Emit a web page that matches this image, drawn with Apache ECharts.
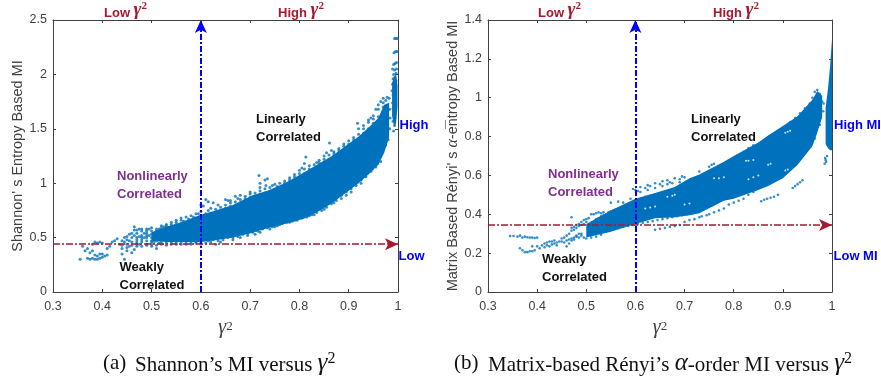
<!DOCTYPE html>
<html>
<head>
<meta charset="utf-8">
<style>html,body{margin:0;padding:0;background:#fff}#main{width:881px;height:381px}</style>
<script src="https://cdn.jsdelivr.net/npm/echarts@6/dist/echarts.min.js"></script>
</head>
<body>
<div id="main"></div>
<script>
var gammaTicks = [0.3, 0.4, 0.5, 0.6, 0.7, 0.8, 0.9, 1];
var shannonTicks = [0, 0.5, 1, 1.5, 2, 2.5];
var renyiTicks = [0, 0.2, 0.4, 0.6, 0.8, 1, 1.2, 1.4];

var shannonBandX = [0.50, 0.53, 0.56, 0.60, 0.63, 0.665, 0.705, 0.735, 0.77, 0.81, 0.84, 0.866, 0.92, 0.94, 0.96, 0.972, 0.982];
var shannonBandLow = [0.47, 0.46, 0.46, 0.46, 0.475, 0.50, 0.545, 0.585, 0.625, 0.675, 0.745, 0.815, 1.00, 1.08, 1.17, 1.28, 1.42];
var shannonBandHigh = [0.55, 0.60, 0.64, 0.71, 0.75, 0.80, 0.89, 0.93, 1.00, 1.10, 1.18, 1.25, 1.43, 1.51, 1.60, 1.72, 1.74];

var shannonColumnX = [0.988, 0.992, 0.996, 0.999];
var shannonColumnLow = [1.62, 1.52, 1.55, 1.70];
var shannonColumnHigh = [1.92, 1.98, 2.00, 1.90];

var renyiBandX = [0.50, 0.55, 0.60, 0.64, 0.68, 0.71, 0.73, 0.78, 0.80, 0.85, 0.87, 0.90, 0.93, 0.96, 0.97, 0.98];
var renyiBandLow = [0.28, 0.31, 0.35, 0.38, 0.385, 0.395, 0.405, 0.47, 0.48, 0.525, 0.545, 0.585, 0.655, 0.75, 0.82, 0.90];
var renyiBandHigh = [0.35, 0.42, 0.48, 0.51, 0.54, 0.585, 0.605, 0.67, 0.70, 0.77, 0.805, 0.855, 0.905, 0.99, 1.035, 1.01];

var renyiColumnX = [0.987, 0.992, 0.996, 1];
var renyiColumnLow = [0.76, 0.74, 0.73, 0.73];
var renyiColumnHigh = [0.95, 1.05, 1.16, 1.30];

// loose dots around the solid part
var shannonDots = [
  [0.36, 0.42], [0.365, 0.38], [0.355, 0.30], [0.37, 0.31], [0.375, 0.30], [0.38, 0.31], [0.385, 0.30], [0.39, 0.30],
  [0.395, 0.31], [0.40, 0.32], [0.405, 0.33], [0.41, 0.34], [0.375, 0.36], [0.38, 0.38], [0.385, 0.34], [0.39, 0.33],
  [0.395, 0.35], [0.40, 0.35], [0.37, 0.40], [0.38, 0.44], [0.385, 0.46], [0.39, 0.45], [0.395, 0.46], [0.40, 0.45],
  [0.41, 0.40], [0.415, 0.42], [0.42, 0.46], [0.425, 0.47], [0.43, 0.49], [0.435, 0.44], [0.44, 0.47], [0.445, 0.50],
  [0.45, 0.51], [0.445, 0.30], [0.44, 0.35], [0.45, 0.38], [0.455, 0.42], [0.46, 0.36], [0.465, 0.39], [0.47, 0.42],
  [0.475, 0.44], [0.455, 0.47], [0.46, 0.50], [0.465, 0.52], [0.47, 0.54], [0.475, 0.58], [0.465, 0.60], [0.48, 0.56],
  [0.47, 0.48], [0.475, 0.51], [0.48, 0.46], [0.48, 0.52], [0.485, 0.50], [0.485, 0.54], [0.49, 0.44], [0.49, 0.47],
  [0.49, 0.56], [0.495, 0.58], [0.495, 0.52], [0.50, 0.42], [0.50, 0.47], [0.505, 0.46], [0.51, 0.40], [0.51, 0.56],
  [0.515, 0.58], [0.515, 0.45], [0.52, 0.44], [0.525, 0.60], [0.53, 0.43], [0.53, 0.62], [0.54, 0.46], [0.54, 0.60],
  [0.55, 0.44], [0.55, 0.64], [0.56, 0.46], [0.565, 0.65], [0.57, 0.44], [0.575, 0.67], [0.58, 0.45], [0.585, 0.69],
  [0.59, 0.45], [0.595, 0.72], [0.60, 0.80], [0.605, 0.79], [0.61, 0.85], [0.615, 0.83], [0.60, 0.44], [0.61, 0.45],
  [0.62, 0.46], [0.625, 0.82], [0.63, 0.44], [0.635, 0.80], [0.64, 0.46], [0.65, 0.85], [0.655, 0.84], [0.66, 0.82],
  [0.665, 0.48], [0.67, 0.88], [0.675, 0.86], [0.68, 0.89], [0.68, 0.50], [0.69, 0.86], [0.695, 0.52], [0.70, 0.90],
  [0.71, 0.53], [0.72, 0.93], [0.72, 0.55], [0.718, 1.07], [0.72, 1.00], [0.73, 1.03], [0.735, 1.04], [0.732, 0.98],
  [0.74, 0.58], [0.745, 0.98], [0.75, 0.60], [0.755, 0.97], [0.76, 0.62], [0.77, 1.00], [0.78, 1.03], [0.78, 0.64],
  [0.79, 1.06], [0.79, 0.66], [0.80, 1.12], [0.805, 1.14], [0.81, 1.18], [0.813, 1.24], [0.82, 1.16], [0.82, 0.70],
  [0.83, 0.71], [0.835, 1.19], [0.84, 1.21], [0.85, 1.25], [0.85, 0.76], [0.855, 1.28], [0.861, 1.37], [0.865, 1.30],
  [0.87, 1.27], [0.87, 0.82], [0.88, 1.32], [0.885, 0.86], [0.89, 1.34], [0.895, 0.89], [0.90, 1.36], [0.905, 0.92],
  [0.91, 1.42], [0.918, 1.55], [0.92, 1.45], [0.925, 1.00], [0.93, 1.50], [0.94, 1.56], [0.945, 1.60], [0.95, 1.62],
  [0.955, 1.68], [0.96, 1.72], [0.965, 1.75], [0.97, 1.78], [0.978, 1.79], [0.982, 1.78], [0.948, 1.13], [0.958, 1.18],
  [0.991, 1.48], [0.993, 1.53], [0.990, 1.57], [0.994, 1.60], [0.991, 1.63], [0.993, 1.66], [0.990, 1.69], [0.995, 1.71],
  [0.989, 1.74], [0.992, 1.76], [0.995, 1.78], [0.990, 1.81], [0.993, 1.83], [0.988, 1.85], [0.991, 1.87], [0.995, 1.88],
  [0.989, 1.91], [0.993, 1.92], [0.996, 1.94], [0.990, 1.96], [0.994, 1.97], [0.991, 2.00], [0.996, 2.01], [0.993, 2.04],
  [0.989, 2.05], [0.997, 2.05], [0.991, 2.09], [0.994, 2.10], [0.997, 2.11], [0.992, 2.20], [0.995, 2.21], [0.998, 2.21],
  [0.993, 2.33], [0.996, 2.33], [0.999, 2.33],
  [0.44, 0.40], [0.44, 0.43], [0.445, 0.46], [0.45, 0.41], [0.45, 0.44], [0.45, 0.48], [0.455, 0.53], [0.46, 0.43],
  [0.46, 0.46], [0.46, 0.54], [0.465, 0.57], [0.47, 0.44], [0.47, 0.46], [0.47, 0.50], [0.47, 0.57], [0.48, 0.42],
  [0.48, 0.48], [0.48, 0.50], [0.48, 0.58], [0.49, 0.43], [0.49, 0.50], [0.49, 0.52], [0.49, 0.54], [0.49, 0.58],
  [0.50, 0.44], [0.50, 0.46], [0.50, 0.50], [0.50, 0.53], [0.50, 0.56], [0.50, 0.59], [0.51, 0.43], [0.51, 0.47],
  [0.51, 0.50], [0.51, 0.54], [0.51, 0.58], [0.52, 0.46], [0.52, 0.48], [0.52, 0.56], [0.52, 0.59], [0.52, 0.61],
  [0.53, 0.45], [0.53, 0.47], [0.53, 0.59], [0.53, 0.61], [0.54, 0.44], [0.54, 0.48], [0.54, 0.62], [0.54, 0.64],
  [0.55, 0.45], [0.55, 0.47], [0.55, 0.62], [0.55, 0.66], [0.56, 0.44], [0.56, 0.48], [0.56, 0.63], [0.56, 0.66],
  [0.56, 0.68], [0.57, 0.46], [0.57, 0.48], [0.57, 0.64], [0.57, 0.69], [0.58, 0.44], [0.58, 0.47], [0.58, 0.66],
  [0.58, 0.70], [0.59, 0.46], [0.59, 0.48], [0.59, 0.68], [0.59, 0.72], [0.60, 0.45], [0.60, 0.47], [0.60, 0.70],
  [0.60, 0.74], [0.61, 0.69], [0.61, 0.72], [0.615, 0.75], [0.615, 0.47], [0.62, 0.72], [0.62, 0.77], [0.625, 0.48],
  [0.63, 0.73], [0.63, 0.76], [0.635, 0.47], [0.64, 0.75], [0.64, 0.78], [0.645, 0.48], [0.65, 0.77], [0.65, 0.80],
  [0.655, 0.50], [0.66, 0.79], [0.66, 0.84], [0.665, 0.50], [0.67, 0.80], [0.67, 0.83], [0.675, 0.51], [0.68, 0.82],
  [0.68, 0.85], [0.685, 0.53], [0.69, 0.84], [0.69, 0.88], [0.695, 0.54], [0.70, 0.87], [0.70, 0.92], [0.705, 0.55],
  [0.71, 0.88], [0.71, 0.91], [0.715, 0.56], [0.72, 0.90], [0.72, 0.96], [0.725, 0.58], [0.73, 0.91], [0.73, 0.95],
  [0.735, 0.59], [0.74, 0.92], [0.74, 0.96], [0.745, 0.60], [0.75, 0.94], [0.75, 0.99], [0.755, 0.61], [0.76, 0.95],
  [0.76, 1.00], [0.765, 0.63], [0.77, 0.97], [0.77, 1.02], [0.775, 0.64], [0.78, 0.99], [0.78, 1.05], [0.785, 0.65],
  [0.79, 1.02], [0.79, 1.08], [0.795, 0.66], [0.80, 1.05], [0.80, 1.09], [0.805, 0.68], [0.81, 1.09], [0.81, 1.13],
  [0.815, 0.69], [0.82, 1.10], [0.82, 1.13], [0.825, 0.71], [0.83, 1.13], [0.83, 1.17], [0.835, 0.73], [0.84, 1.16],
  [0.84, 1.19], [0.845, 0.75], [0.85, 1.19], [0.85, 1.22], [0.855, 0.78], [0.86, 1.22], [0.86, 1.26], [0.865, 0.81],
  [0.87, 1.25], [0.87, 1.29], [0.875, 0.84], [0.88, 1.27], [0.88, 1.30], [0.885, 0.89], [0.89, 1.30], [0.89, 1.36],
  [0.895, 0.92], [0.90, 1.33], [0.90, 1.39], [0.905, 0.95], [0.91, 1.37], [0.91, 1.40], [0.915, 0.98], [0.92, 1.41],
  [0.92, 1.50], [0.925, 1.03], [0.93, 1.46], [0.93, 1.53], [0.935, 1.06], [0.94, 1.50], [0.94, 1.58], [0.945, 1.11],
  [0.95, 1.55], [0.95, 1.59], [0.955, 1.15], [0.96, 1.61], [0.96, 1.68], [0.965, 1.20], [0.97, 1.70], [0.97, 1.74],
  [0.975, 1.35], [0.98, 1.40], [0.983, 1.50], [0.984, 1.60], [0.983, 1.68], [0.975, 1.76]
];

var renyiDots = [
  [0.345, 0.288], [0.352, 0.288], [0.36, 0.285], [0.365, 0.29], [0.37, 0.28], [0.375, 0.285], [0.38, 0.282], [0.385, 0.28],
  [0.39, 0.28], [0.395, 0.278], [0.40, 0.28], [0.365, 0.225], [0.37, 0.215], [0.375, 0.205], [0.38, 0.205], [0.385, 0.21],
  [0.39, 0.21], [0.395, 0.215], [0.40, 0.235], [0.39, 0.235], [0.405, 0.225], [0.41, 0.24], [0.415, 0.25], [0.42, 0.255],
  [0.425, 0.26], [0.43, 0.26], [0.435, 0.265], [0.44, 0.24], [0.445, 0.26], [0.45, 0.275], [0.415, 0.23], [0.425, 0.235],
  [0.455, 0.28], [0.46, 0.235], [0.465, 0.25], [0.47, 0.265], [0.475, 0.28], [0.48, 0.29], [0.485, 0.30], [0.49, 0.30],
  [0.46, 0.29], [0.465, 0.30], [0.47, 0.315], [0.475, 0.32], [0.47, 0.385], [0.48, 0.33], [0.485, 0.34], [0.49, 0.345],
  [0.495, 0.35], [0.50, 0.36], [0.505, 0.38], [0.51, 0.40], [0.515, 0.40], [0.52, 0.405], [0.525, 0.41], [0.53, 0.405],
  [0.535, 0.41], [0.50, 0.275], [0.51, 0.28], [0.52, 0.285], [0.53, 0.295], [0.54, 0.31], [0.55, 0.46], [0.565, 0.465],
  [0.575, 0.46], [0.59, 0.48], [0.595, 0.53], [0.60, 0.525], [0.605, 0.52], [0.61, 0.54], [0.62, 0.535], [0.625, 0.55],
  [0.63, 0.545], [0.64, 0.56], [0.65, 0.555], [0.655, 0.57], [0.665, 0.575], [0.67, 0.565], [0.68, 0.585], [0.69, 0.58],
  [0.695, 0.595], [0.70, 0.59], [0.61, 0.515], [0.625, 0.525], [0.64, 0.535], [0.655, 0.545], [0.665, 0.555], [0.675, 0.56],
  [0.69, 0.565], [0.73, 0.62], [0.75, 0.645], [0.755, 0.655], [0.76, 0.66], [0.64, 0.32], [0.65, 0.325], [0.66, 0.33],
  [0.67, 0.335], [0.68, 0.34], [0.69, 0.345], [0.70, 0.36], [0.71, 0.37], [0.72, 0.375], [0.73, 0.385], [0.735, 0.39],
  [0.745, 0.395], [0.75, 0.40], [0.76, 0.41], [0.77, 0.42], [0.78, 0.43], [0.79, 0.45], [0.80, 0.46], [0.81, 0.47],
  [0.82, 0.48], [0.83, 0.50], [0.84, 0.515], [0.856, 0.467], [0.862, 0.475], [0.868, 0.48], [0.875, 0.485], [0.882, 0.49],
  [0.89, 0.50], [0.92, 0.535], [0.925, 0.545], [0.93, 0.555], [0.935, 0.565], [0.94, 0.575], [0.985, 0.66], [0.987, 0.68],
  [0.99, 0.70], [0.988, 0.67], [0.986, 0.69], [0.965, 1.03], [0.97, 1.04], [0.975, 1.02], [0.98, 0.98], [0.96, 1.00],
  [0.955, 0.97], [0.84, 0.755], [0.83, 0.74], [0.82, 0.72], [0.81, 0.70],
  [0.42, 0.24], [0.43, 0.245], [0.435, 0.25], [0.44, 0.255], [0.45, 0.26], [0.455, 0.255], [0.46, 0.265], [0.465, 0.27],
  [0.47, 0.275], [0.475, 0.27], [0.48, 0.285], [0.485, 0.28], [0.49, 0.29], [0.495, 0.28], [0.47, 0.33], [0.475, 0.335],
  [0.48, 0.345], [0.485, 0.35], [0.49, 0.36], [0.495, 0.37], [0.50, 0.375], [0.505, 0.345], [0.51, 0.355], [0.515, 0.36],
  [0.52, 0.375], [0.525, 0.38], [0.53, 0.39], [0.535, 0.395], [0.54, 0.40], [0.545, 0.41], [0.55, 0.415], [0.555, 0.42],
  [0.56, 0.425], [0.565, 0.43], [0.57, 0.435], [0.575, 0.44], [0.58, 0.445], [0.585, 0.45], [0.59, 0.455], [0.595, 0.46],
  [0.505, 0.295], [0.515, 0.30], [0.525, 0.305], [0.535, 0.31], [0.545, 0.315], [0.55, 0.32], [0.555, 0.325], [0.565, 0.33],
  [0.575, 0.335], [0.585, 0.34], [0.595, 0.345], [0.605, 0.35], [0.615, 0.355], [0.625, 0.36], [0.635, 0.365], [0.645, 0.37],
  [0.655, 0.375], [0.665, 0.38], [0.675, 0.385], [0.685, 0.39], [0.695, 0.395], [0.705, 0.40], [0.715, 0.405], [0.72, 0.41],
  [0.735, 0.425], [0.745, 0.435], [0.755, 0.445], [0.765, 0.46], [0.775, 0.475], [0.61, 0.48], [0.62, 0.49], [0.63, 0.495],
  [0.65, 0.505], [0.66, 0.51], [0.67, 0.52], [0.695, 0.545], [0.715, 0.58], [0.74, 0.605], [0.755, 0.62], [0.77, 0.635],
  [0.785, 0.66], [0.795, 0.675], [0.805, 0.69], [0.815, 0.70], [0.825, 0.715], [0.835, 0.73], [0.845, 0.745], [0.855, 0.76],
  [0.865, 0.785], [0.875, 0.80], [0.885, 0.82], [0.895, 0.835], [0.905, 0.85], [0.915, 0.875], [0.925, 0.895], [0.935, 0.92],
  [0.945, 0.945], [0.955, 0.965], [0.865, 0.555], [0.875, 0.57], [0.885, 0.58], [0.895, 0.595], [0.905, 0.61], [0.915, 0.63],
  [0.925, 0.655], [0.935, 0.685], [0.945, 0.715], [0.955, 0.75], [0.965, 0.79], [0.975, 0.86], [0.982, 0.93], [0.983, 0.97]
];

// thin white slits that run through the right part of the second cloud
var renyiSlits = [
  [0.905, 0.82], [0.91, 0.825], [0.915, 0.83], [0.825, 0.675], [0.83, 0.675], [0.84, 0.68], [0.91, 0.63], [0.905, 0.625],
  [0.76, 0.585], [0.77, 0.585], [0.78, 0.59], [0.665, 0.49], [0.675, 0.495], [0.68, 0.50], [0.83, 0.58], [0.84, 0.59],
  [0.85, 0.60], [0.87, 0.655], [0.875, 0.66], [0.70, 0.45], [0.71, 0.455], [0.62, 0.43], [0.63, 0.435], [0.64, 0.44]
];

var bandColor = '#0072BD';
var red = '#A6192E';
var blue = '#0000FF';
var purple = '#7E2F8E';
var mathFont = '"Liberation Serif"';
var sansFont = '"Liberation Sans"';

var chart = echarts.init(document.getElementById('main'));

function bandSeries(xs, lows, highs, axisIndex) {
    return {
        type: 'custom',
        xAxisIndex: axisIndex,
        yAxisIndex: axisIndex,
        coordinateSystem: 'cartesian2d',
        silent: true,
        z: 2,
        data: [[xs[0], lows[0]]],
        renderItem: function(params, api) {
            var points = [];
            for (var i = 0; i < xs.length; i++) {
                points.push(api.coord([xs[i], highs[i]]));
            }
            for (var j = xs.length - 1; j >= 0; j--) {
                points.push(api.coord([xs[j], lows[j]]));
            }
            return { type: 'polygon', shape: { points: points }, style: { fill: bandColor } };
        }
    };
}

function slitSeries(dots, axisIndex) {
    return {
        type: 'scatter',
        xAxisIndex: axisIndex,
        yAxisIndex: axisIndex,
        data: dots,
        symbolSize: 2,
        itemStyle: { color: '#fff' },
        silent: true,
        z: 3
    };
}

function dotSeries(dots, axisIndex, lineY, yMax, size) {
    return {
        type: 'scatter',
        xAxisIndex: axisIndex,
        yAxisIndex: axisIndex,
        data: dots,
        symbolSize: size,
        itemStyle: { color: bandColor },
        silent: true,
        z: 3,
        markLine: {
            silent: true,
            animation: false,
            symbol: ['none', 'arrow'],
            symbolSize: [9, 13],
            label: { show: false },
            data: [
                [{ coord: [0.3, lineY], lineStyle: { color: red, width: 1.5, type: [7, 2, 2, 2] }, itemStyle: { color: red } }, { coord: [1, lineY] }],
                [{ coord: [0.6, 0], lineStyle: { color: blue, width: 2, type: [6, 2, 2, 2] }, itemStyle: { color: blue } }, { coord: [0.6, yMax] }]
            ]
        }
    };
}

var axisColor = '#404040';
var gammaRich = {
    g: { fontFamily: mathFont, fontStyle: 'italic', fontSize: 20, color: '#404040', verticalAlign: 'bottom' },
    s: { fontFamily: mathFont, fontSize: 13, color: '#404040', verticalAlign: 'top' }
};

function xAxes(grid) {
    return [{
        type: 'value', gridIndex: grid, min: gammaTicks[0], max: gammaTicks[gammaTicks.length - 1], interval: 0.1,
        splitLine: { show: false },
        axisLine: { onZero: false, lineStyle: { color: axisColor } },
        axisTick: { inside: true, length: 3, lineStyle: { color: axisColor } },
        axisLabel: { color: '#404040', fontFamily: sansFont, fontSize: 12.5, margin: 8, showMinLabel: true, showMaxLabel: true },
        name: '{g|γ}{s|2}', nameLocation: 'middle', nameGap: 22,
        nameTextStyle: { rich: gammaRich, lineHeight: 18 }
    }, {
        type: 'value', gridIndex: grid, position: 'top', min: gammaTicks[0], max: gammaTicks[gammaTicks.length - 1], interval: 0.1,
        splitLine: { show: false },
        axisLine: { onZero: false, lineStyle: { color: axisColor } },
        axisTick: { inside: true, length: 3, lineStyle: { color: axisColor } },
        axisLabel: { show: false }
    }];
}

function yAxes(grid, ticks, step, title, gap, rich) {
    return [{
        type: 'value', gridIndex: grid, min: ticks[0], max: ticks[ticks.length - 1], interval: step,
        splitLine: { show: false },
        axisLine: { onZero: false, lineStyle: { color: axisColor } },
        axisTick: { inside: true, length: 3, lineStyle: { color: axisColor } },
        axisLabel: { color: '#404040', fontFamily: sansFont, fontSize: 12.5, margin: 6 },
        name: title, nameLocation: 'middle', nameGap: gap,
        nameTextStyle: { color: '#404040', fontFamily: sansFont, fontSize: 14.5, rich: rich }
    }, {
        type: 'value', gridIndex: grid, position: 'right', min: ticks[0], max: ticks[ticks.length - 1], interval: step,
        splitLine: { show: false },
        axisLine: { onZero: false, lineStyle: { color: axisColor } },
        axisTick: { inside: true, length: 3, lineStyle: { color: axisColor } },
        axisLabel: { show: false }
    }];
}

function note(text, x, y, color) {
    return {
        type: 'text', x: x, y: y, z: 20,
        style: { text: text, fill: color, fontFamily: sansFont, fontWeight: 'bold', fontSize: 13, lineHeight: 18, verticalAlign: 'middle' }
    };
}

function gammaNote(word, x, y) {
    return {
        type: 'text', x: x, y: y, z: 20,
        style: {
            text: '{w|' + word + ' }{g|γ}{s|2}',
            verticalAlign: 'middle',
            rich: {
                w: { fontFamily: sansFont, fontWeight: 'bold', fontSize: 13, fill: red, verticalAlign: 'bottom' },
                g: { fontFamily: mathFont, fontStyle: 'italic', fontWeight: 'bold', fontSize: 19, fill: red, verticalAlign: 'bottom' },
                s: { fontFamily: mathFont, fontWeight: 'bold', fontSize: 11, fill: red, verticalAlign: 'top' }
            }
        }
    };
}

function caption(text, x) {
    return {
        type: 'text', x: x, y: 363, z: 20,
        style: {
            text: text,
            verticalAlign: 'middle',
            rich: {
                t: { fontFamily: mathFont, fontSize: 21, fill: '#111', verticalAlign: 'bottom' },
                g: { fontFamily: mathFont, fontStyle: 'italic', fontSize: 25, fill: '#111', verticalAlign: 'bottom' },
                s: { fontFamily: mathFont, fontSize: 16, fill: '#111', verticalAlign: 'top' }
            }
        }
    };
}

var option = {
    animation: false,
    backgroundColor: '#fff',
    grid: [
        { left: 53, right: 483, top: 20, bottom: 89 },
        { left: 488, right: 49, top: 20, bottom: 89 }
    ],
    xAxis: xAxes(0).concat(xAxes(1)),
    yAxis: yAxes(0, shannonTicks, 0.5, "Shannon' s Entropy Based MI", 25).concat(
        yAxes(1, renyiTicks, 0.2, "{t|Matrix Based Rényi' s }{a|α}{t|-entropy Based MI}", 25.5, {
            t: { fontFamily: sansFont, fontSize: 14.5, color: '#404040' },
            a: { fontFamily: mathFont, fontStyle: 'italic', fontSize: 16, color: '#404040' }
        })
    ),
    series: [
        bandSeries(shannonBandX, shannonBandLow, shannonBandHigh, 0),
        bandSeries(shannonColumnX, shannonColumnLow, shannonColumnHigh, 0),
        dotSeries(shannonDots, 0, 0.44, 2.5, 3),
        // the top and right axes of panel a sit at index 1, panel b uses 2
        bandSeries(renyiBandX, renyiBandLow, renyiBandHigh, 2),
        bandSeries(renyiColumnX, renyiColumnLow, renyiColumnHigh, 2),
        slitSeries(renyiSlits, 2),
        dotSeries(renyiDots, 2, 0.345, 1.4, 2.6)
    ],
    graphic: [
        gammaNote('Low', 104, 10),
        gammaNote('High', 278, 10),
        gammaNote('Low', 538, 10),
        gammaNote('High', 713, 10),
        note('Linearly\nCorrelated', 256, 128, '#111'),
        note('Nonlinearly\nCorrelated', 117, 185, purple),
        note('Weakly\nCorrelated', 119.5, 276, '#111'),
        note('High MI', 399.5, 125, blue),
        note('Low MI', 398.5, 256, blue),
        { type: 'rect', z: 21, shape: { x: 428, y: 110, width: 17, height: 160 }, style: { fill: '#fff' } },
        note('Linearly\nCorrelated', 691, 128, '#111'),
        note('Nonlinearly\nCorrelated', 548, 183, purple),
        note('Weakly\nCorrelated', 542, 268, '#111'),
        note('High MI', 834, 125, blue),
        note('Low MI', 833.5, 256, blue),
        caption('{t|(a)}', 103),
        caption('{t|Shannon’s MI versus }{g|γ}{s|2}', 135),
        caption('{t|(b)}', 454),
        caption('{t|Matrix-based Rényi’s }{g|α}{t|-order MI versus }{g|γ}{s|2}', 488)
    ]
};

chart.setOption(option);
</script>
</body>
</html>
